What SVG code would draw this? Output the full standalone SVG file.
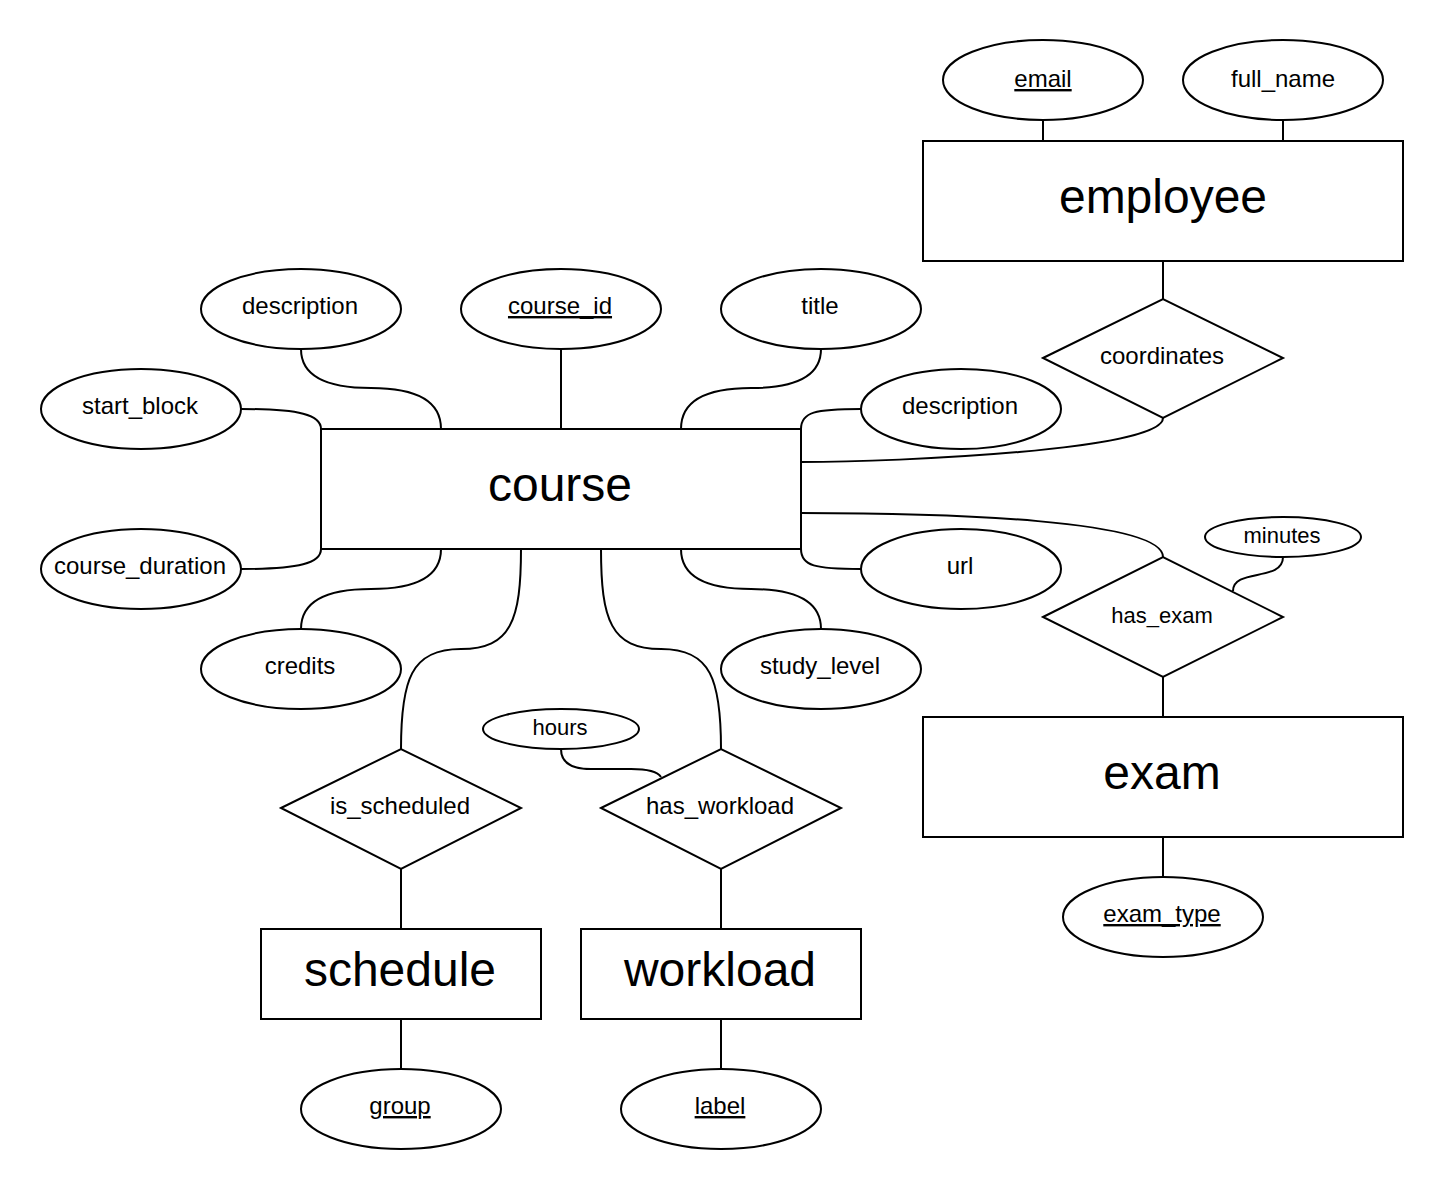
<svg xmlns="http://www.w3.org/2000/svg" width="1444" height="1190" viewBox="0 0 1444 1190">
<style>
.s{fill:#fff;stroke:#000;stroke-width:2}
.c{fill:none;stroke:#000;stroke-width:2}
text{font-family:"Liberation Sans",Arial,sans-serif;text-anchor:middle;fill:#000}
.a{font-size:24px}
.sm{font-size:22px}
.e{font-size:48px}
.u{text-decoration:underline}
</style>
<rect width="1444" height="1190" fill="#fff"/>
<g id="connectors">
<path class="c" d="M1043 120V141M1283 120V141M1163 261V299"/>
<path class="c" d="M1163 418C1163 450 900 462 801 462"/>
<path class="c" d="M801 513C950 513 1163 520 1163 557"/>
<path class="c" d="M1283 557C1283 582 1233 568 1233 591"/>
<path class="c" d="M1163 677V717M1163 837V877"/>
<path class="c" d="M861 409C815 409 801 412 801 429"/>
<path class="c" d="M861 569C815 569 801 566 801 549"/>
<path class="c" d="M241 409C300 409 321 415 321 429"/>
<path class="c" d="M241 569C300 569 321 563 321 549"/>
<path class="c" d="M301 349Q301 388 371 388Q441 388 441 429"/>
<path class="c" d="M561 349V429"/>
<path class="c" d="M821 349Q821 388 751 388Q681 388 681 429"/>
<path class="c" d="M441 549Q441 589 371 589Q301 589 301 629"/>
<path class="c" d="M681 549Q681 589 751 589Q821 589 821 629"/>
<path class="c" d="M521 549C521 620 511 649 461 649C411 649 401 680 401 749"/>
<path class="c" d="M601 549C601 620 611 649 661 649C711 649 721 680 721 749"/>
<path class="c" d="M561 749Q561 769 591 769L631 769Q656 769 661 777"/>
<path class="c" d="M401 869V929M721 869V929M401 1019V1069M721 1019V1069"/>
</g>
<g id="employee"><rect class="s" x="923" y="141" width="480" height="120"/><text class="e" x="1163" y="213">employee</text></g>
<g id="email"><ellipse class="s" cx="1043" cy="80" rx="100" ry="40"/><text class="a u" x="1043" y="87">email</text></g>
<g id="full_name"><ellipse class="s" cx="1283" cy="80" rx="100" ry="40"/><text class="a" x="1283" y="87">full_name</text></g>
<g id="coordinates"><polygon class="s" points="1043,358 1163,299 1283,358 1163,418"/><text class="a" x="1162" y="364">coordinates</text></g>
<g id="course"><rect class="s" x="321" y="429" width="480" height="120"/><text class="e" x="560" y="501">course</text></g>
<g id="description1"><ellipse class="s" cx="301" cy="309" rx="100" ry="40"/><text class="a" x="300" y="314">description</text></g>
<g id="course_id"><ellipse class="s" cx="561" cy="309" rx="100" ry="40"/><text class="a u" x="560" y="314">course_id</text></g>
<g id="title"><ellipse class="s" cx="821" cy="309" rx="100" ry="40"/><text class="a" x="820" y="314">title</text></g>
<g id="start_block"><ellipse class="s" cx="141" cy="409" rx="100" ry="40"/><text class="a" x="140" y="414">start_block</text></g>
<g id="description2"><ellipse class="s" cx="961" cy="409" rx="100" ry="40"/><text class="a" x="960" y="414">description</text></g>
<g id="course_duration"><ellipse class="s" cx="141" cy="569" rx="100" ry="40"/><text class="a" x="140" y="574">course_duration</text></g>
<g id="url"><ellipse class="s" cx="961" cy="569" rx="100" ry="40"/><text class="a" x="960" y="574">url</text></g>
<g id="credits"><ellipse class="s" cx="301" cy="669" rx="100" ry="40"/><text class="a" x="300" y="674">credits</text></g>
<g id="study_level"><ellipse class="s" cx="821" cy="669" rx="100" ry="40"/><text class="a" x="820" y="674">study_level</text></g>
<g id="minutes"><ellipse class="s" cx="1283" cy="537" rx="78" ry="20"/><text class="sm" x="1282" y="543">minutes</text></g>
<g id="has_exam"><polygon class="s" points="1043,617 1163,557 1283,617 1163,677"/><text class="sm" x="1162" y="623">has_exam</text></g>
<g id="exam"><rect class="s" x="923" y="717" width="480" height="120"/><text class="e" x="1162" y="789">exam</text></g>
<g id="exam_type"><ellipse class="s" cx="1163" cy="917" rx="100" ry="40"/><text class="a u" x="1162" y="922">exam_type</text></g>
<g id="hours"><ellipse class="s" cx="561" cy="729" rx="78" ry="20"/><text class="sm" x="560" y="735">hours</text></g>
<g id="is_scheduled"><polygon class="s" points="281,808 401,749 521,808 401,869"/><text class="a" x="400" y="814">is_scheduled</text></g>
<g id="has_workload"><polygon class="s" points="601,808 721,749 841,808 721,869"/><text class="a" x="720" y="814">has_workload</text></g>
<g id="schedule"><rect class="s" x="261" y="929" width="280" height="90"/><text class="e" x="400" y="986">schedule</text></g>
<g id="workload"><rect class="s" x="581" y="929" width="280" height="90"/><text class="e" x="720" y="986">workload</text></g>
<g id="group"><ellipse class="s" cx="401" cy="1109" rx="100" ry="40"/><text class="a u" x="400" y="1114">group</text></g>
<g id="label"><ellipse class="s" cx="721" cy="1109" rx="100" ry="40"/><text class="a u" x="720" y="1114">label</text></g>
</svg>
